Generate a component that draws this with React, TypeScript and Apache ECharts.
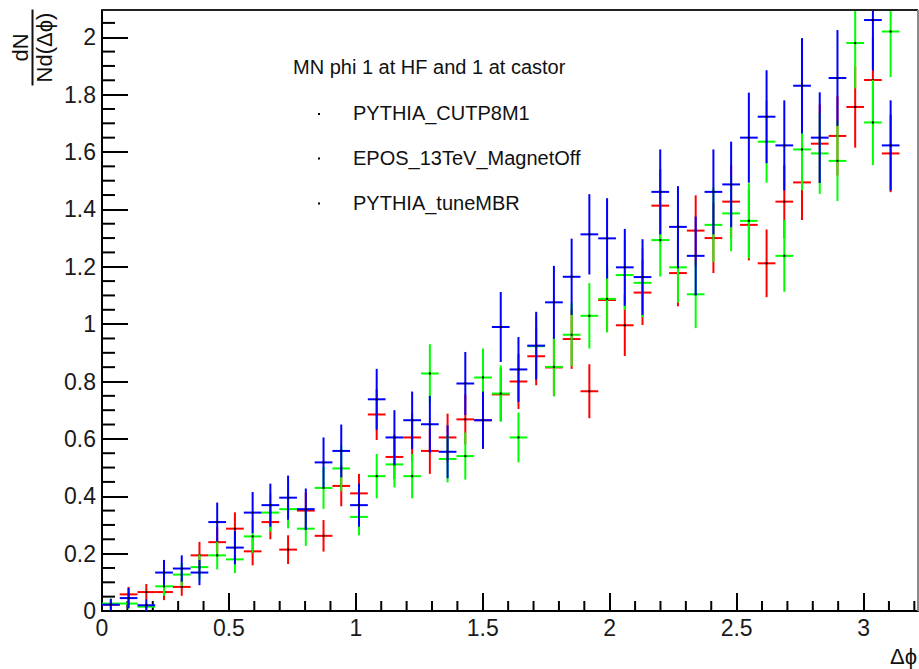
import React, { useEffect, useRef } from "react";
import * as echarts from "echarts";

// Histogram binning: 45 bins over 0..π
const N_BINS = 45;
const HIST_MAX = Math.PI;
const BIN_WIDTH = HIST_MAX / N_BINS;
const binCenters = Array.from({ length: N_BINS }, (_, k) => (k + 0.5) * BIN_WIDTH);

const legendTitle = "MN phi 1 at HF and 1 at castor";
const seriesNames = ["PYTHIA_CUTP8M1", "EPOS_13TeV_MagnetOff", "PYTHIA_tuneMBR"];
const seriesColors = ["#ff0000", "#00ff00", "#0000ff"];

const xTickValues = [0, 0.5, 1, 1.5, 2, 2.5, 3];
const yTickValues = [0, 0.2, 0.4, 0.6, 0.8, 1, 1.2, 1.4, 1.6, 1.8, 2];
// secondary (minor) tick steps
const X_MINOR_STEP = 0.1;
const Y_MINOR_STEP = 0.05;

// PYTHIA_CUTP8M1 (red)
const cutp8m1Values = [
  0.022, 0.058, 0.066, 0.066, 0.084, 0.194, 0.24, 0.287, 0.208, 0.31,
  0.214, 0.35, 0.262, 0.436, 0.41, 0.685, 0.537, 0.605, 0.558, 0.605,
  0.668, 0.665, 0.755, 0.8, 0.888, 0.849, 0.948, 0.766, 1.084, 0.996,
  1.11, 1.413, 1.178, 1.326, 1.3, 1.427, 1.346, 1.212, 1.427, 1.494,
  1.629, 1.656, 1.757, 1.851, 1.595,
];
const cutp8m1Errors = [
  0.016, 0.026, 0.028, 0.028, 0.031, 0.047, 0.052, 0.057, 0.049, 0.06,
  0.05, 0.063, 0.055, 0.071, 0.068, 0.089, 0.078, 0.083, 0.08, 0.083,
  0.087, 0.087, 0.093, 0.096, 0.101, 0.099, 0.104, 0.094, 0.111, 0.107,
  0.113, 0.127, 0.116, 0.123, 0.122, 0.128, 0.124, 0.118, 0.128, 0.131,
  0.137, 0.138, 0.142, 0.146, 0.135,
];

// EPOS_13TeV_MagnetOff (green)
const eposValues = [
  0.026, 0.026, 0.015, 0.086, 0.127, 0.153, 0.194, 0.18, 0.26, 0.343,
  0.355, 0.287, 0.429, 0.497, 0.328, 0.47, 0.511, 0.47, 0.828, 0.53,
  0.54, 0.814, 0.758, 0.605, 0.923, 0.851, 0.963, 1.029, 1.088, 1.171,
  1.144, 1.293, 1.198, 1.104, 1.346, 1.386, 1.36, 1.636, 1.238, 1.609,
  1.595, 1.569, 1.98, 1.703, 2.02,
];
const eposErrors = [
  0.018, 0.018, 0.014, 0.033, 0.04, 0.044, 0.049, 0.048, 0.057, 0.066,
  0.067, 0.06, 0.073, 0.079, 0.064, 0.077, 0.08, 0.077, 0.102, 0.082,
  0.082, 0.101, 0.098, 0.087, 0.108, 0.103, 0.11, 0.114, 0.117, 0.121,
  0.12, 0.127, 0.123, 0.118, 0.13, 0.132, 0.131, 0.143, 0.125, 0.142,
  0.141, 0.14, 0.158, 0.149, 0.159,
];

// PYTHIA_tuneMBR (blue)
const tuneMBRValues = [
  0.022, 0.045, 0.02, 0.134, 0.148, 0.134, 0.31, 0.221, 0.343, 0.369,
  0.395, 0.355, 0.518, 0.558, 0.369, 0.738, 0.605, 0.665, 0.651, 0.555,
  0.793, 0.665, 0.99, 0.842, 0.925, 1.076, 1.165, 1.313, 1.299, 1.198,
  1.164, 1.461, 1.339, 1.238, 1.461, 1.487, 1.65, 1.723, 1.623, 1.831,
  1.65, 1.858, 2.3, 2.06, 1.623,
];
const tuneMBRErrors = [
  0.02, 0.035, 0.02, 0.044, 0.046, 0.044, 0.068, 0.058, 0.072, 0.075,
  0.077, 0.072, 0.087, 0.092, 0.075, 0.106, 0.095, 0.1, 0.099, 0.092,
  0.11, 0.1, 0.122, 0.113, 0.118, 0.127, 0.133, 0.14, 0.14, 0.134,
  0.132, 0.148, 0.142, 0.137, 0.148, 0.149, 0.157, 0.162, 0.157, 0.166,
  0.158, 0.167, 0.185, 0.176, 0.157,
];

const X_MIN = 0;
const X_MAX = 3.2145;
const Y_MIN = 0;
const Y_MAX = 2.095;

// plot frame geometry (pixels)
const GRID_LEFT = 102;
const GRID_TOP = 10;
const GRID_W = 816;
const GRID_H = 601;
const CHART_W = 919;
const CHART_H = 669;

const FONT = "'Liberation Sans', Arial, Helvetica, sans-serif";

// ROOT-style tick marks pointing into the frame
const X_TICK_MINOR = 10;
const X_TICK_MAJOR = 18;
const Y_TICK_MINOR = 13;
const Y_TICK_MAJOR = 26;

function makeRender(color: string) {
  return (params: any, api: any) => {
    const x = api.value(0);
    const y = api.value(1);
    const e = api.value(2);
    const cs = params.coordSys;
    const top = cs.y;
    const bottom = cs.y + cs.height;
    const c = api.coord([x, y]);
    const l = api.coord([x - BIN_WIDTH / 2, y]);
    const r = api.coord([x + BIN_WIDTH / 2, y]);
    const hi = api.coord([x, y + e]);
    const lo = api.coord([x, y - e]);
    const children: any[] = [];
    const y1 = Math.max(hi[1], top);
    const y2 = Math.min(lo[1], bottom);
    if (y2 > y1) {
      children.push({
        type: "line",
        shape: { x1: c[0], y1, x2: c[0], y2 },
        style: { stroke: color, lineWidth: 2 },
      });
    }
    if (c[1] >= top && c[1] <= bottom) {
      children.push({
        type: "line",
        shape: { x1: l[0], y1: c[1], x2: r[0], y2: c[1] },
        style: { stroke: color, lineWidth: 2 },
      });
      children.push({
        type: "rect",
        shape: { x: c[0] - 1, y: c[1] - 1, width: 2, height: 2 },
        style: { fill: "#000" },
      });
    }
    return { type: "group", children };
  };
}

// minor tick series: one data item per secondary tick, [x, y, kind]
// kind 0 = x minor, 2 = y minor (primary ticks come from the axes)
function minorTickData(): number[][] {
  const out: number[][] = [];
  const nx = Math.floor((X_MAX - X_MIN) / X_MINOR_STEP + 1e-9);
  for (let i = 1; i <= nx; i++) {
    const v = +(X_MIN + i * X_MINOR_STEP).toFixed(4);
    if (!xTickValues.some((t) => Math.abs(t - v) < 1e-6)) out.push([v, Y_MIN, 0]);
  }
  const ny = Math.floor((Y_MAX - Y_MIN) / Y_MINOR_STEP + 1e-9);
  for (let i = 1; i <= ny; i++) {
    const v = +(Y_MIN + i * Y_MINOR_STEP).toFixed(4);
    if (!yTickValues.some((t) => Math.abs(t - v) < 1e-6)) out.push([X_MIN, v, 2]);
  }
  return out;
}

function renderMinorTicks(params: any, api: any) {
  const kind = api.value(2);
  const p = api.coord([api.value(0), api.value(1)]);
  const shape =
    kind === 0
      ? { x1: p[0], y1: p[1], x2: p[0], y2: p[1] - X_TICK_MINOR }
      : { x1: p[0], y1: p[1], x2: p[0] + Y_TICK_MINOR, y2: p[1] };
  return {
    type: "group",
    children: [{ type: "line", shape, style: { stroke: "#000", lineWidth: 2 } }],
  };
}

const fmt = (v: number) => String(parseFloat(Number(v).toFixed(2)));

export default function App() {
  const ref = useRef<HTMLDivElement>(null);

  useEffect(() => {
    if (!ref.current) return;
    const chart = echarts.init(ref.current, null, { renderer: "svg" });

    const valueSets = [cutp8m1Values, eposValues, tuneMBRValues];
    const errorSets = [cutp8m1Errors, eposErrors, tuneMBRErrors];

    const series: any[] = [
      {
        type: "custom",
        name: "minor ticks",
        encode: { x: 0, y: 1 },
        data: minorTickData(),
        renderItem: renderMinorTicks,
        z: 1,
      },
      ...seriesNames.map((name, si) => ({
        type: "custom",
        name,
        clip: true,
        encode: { x: 0, y: 1 },
        data: binCenters.map((xc, i) => [xc, valueSets[si][i], errorSets[si][i]]),
        renderItem: makeRender(seriesColors[si]),
        z: 2 + si,
      })),
    ];

    const labelStyle = {
      fontFamily: FONT,
      fontSize: 23,
      color: "#1a1a1a",
    };

    const graphic: any[] = [
      // frame: top and right
      {
        type: "rect",
        shape: { x: GRID_LEFT, y: GRID_TOP - 1, width: GRID_W, height: 2 },
        style: { fill: "#222" },
        z: 20,
      },
      {
        type: "rect",
        shape: { x: GRID_LEFT + GRID_W - 1, y: GRID_TOP, width: 2, height: GRID_H },
        style: { fill: "#8a8a8a" },
        z: 20,
      },
      // legend
      {
        type: "text",
        left: 293,
        top: 57,
        style: { text: legendTitle, fontFamily: FONT, fontSize: 20, fill: "#111" },
        z: 20,
      },
      ...seriesNames.flatMap((name, i) => {
        const cy = [114, 158.5, 203.5][i];
        return [
          {
            type: "rect",
            shape: { x: 318, y: cy - 1, width: 2, height: 2 },
            style: { fill: "#000" },
            z: 20,
          },
          {
            type: "text",
            left: 353,
            top: cy - 11,
            style: { text: name, fontFamily: FONT, fontSize: 20, fill: "#111" },
            z: 20,
          },
        ];
      }),
      // y-axis title as a rotated fraction
      {
        type: "group",
        x: 32.5,
        y: 47.5,
        rotation: Math.PI / 2,
        z: 20,
        children: [
          {
            type: "rect",
            shape: { x: -38, y: -1, width: 76, height: 2 },
            style: { fill: "#111" },
          },
          {
            type: "text",
            x: 0,
            y: -1,
            style: {
              text: "dN",
              fontFamily: FONT,
              fontSize: 22,
              fill: "#111",
              align: "center",
              verticalAlign: "bottom",
            },
          },
          {
            type: "text",
            x: 0,
            y: 1,
            style: {
              text: "Nd(Δϕ)",
              fontFamily: FONT,
              fontSize: 22,
              fill: "#111",
              align: "center",
              verticalAlign: "top",
            },
          },
        ],
      },
      // x-axis title
      {
        type: "text",
        right: 2,
        top: 645,
        style: { text: "Δϕ", fontFamily: FONT, fontSize: 22, fill: "#111" },
        z: 20,
      },
    ];

    const option: any = {
      animation: false,
      backgroundColor: "#ffffff",
      grid: {
        left: GRID_LEFT,
        top: GRID_TOP,
        right: CHART_W - GRID_LEFT - GRID_W,
        bottom: CHART_H - GRID_TOP - GRID_H,
        containLabel: false,
      },
      xAxis: {
        type: "value",
        position: "bottom",
        min: X_MIN,
        max: X_MAX,
        interval: 0.5,
        axisLine: { show: true, onZero: false, lineStyle: { color: "#000", width: 2 } },
        axisTick: {
          show: true,
          inside: true,
          length: X_TICK_MAJOR,
          lineStyle: { color: "#000", width: 2 },
        },
        axisLabel: {
          show: true,
          margin: 5,
          showMaxLabel: false,
          formatter: (v: number) => (xTickValues.some((t) => Math.abs(t - v) < 1e-6) ? fmt(v) : ""),
          ...labelStyle,
        },
        splitLine: { show: false },
      },
      yAxis: {
        type: "value",
        position: "left",
        min: Y_MIN,
        max: Y_MAX,
        interval: 0.2,
        axisLine: { show: true, onZero: false, lineStyle: { color: "#000", width: 2 } },
        axisTick: {
          show: true,
          inside: true,
          length: Y_TICK_MAJOR,
          lineStyle: { color: "#000", width: 2 },
        },
        axisLabel: {
          show: true,
          margin: 6,
          showMaxLabel: false,
          formatter: (v: number) => (yTickValues.some((t) => Math.abs(t - v) < 1e-6) ? fmt(v) : ""),
          ...labelStyle,
        },
        splitLine: { show: false },
      },
      series,
      graphic,
    };

    chart.setOption(option);
    return () => chart.dispose();
  }, []);

  return (
    <div
      ref={ref}
      style={{ position: "fixed", left: 0, top: 0, width: CHART_W, height: CHART_H, background: "#fff" }}
    />
  );
}
